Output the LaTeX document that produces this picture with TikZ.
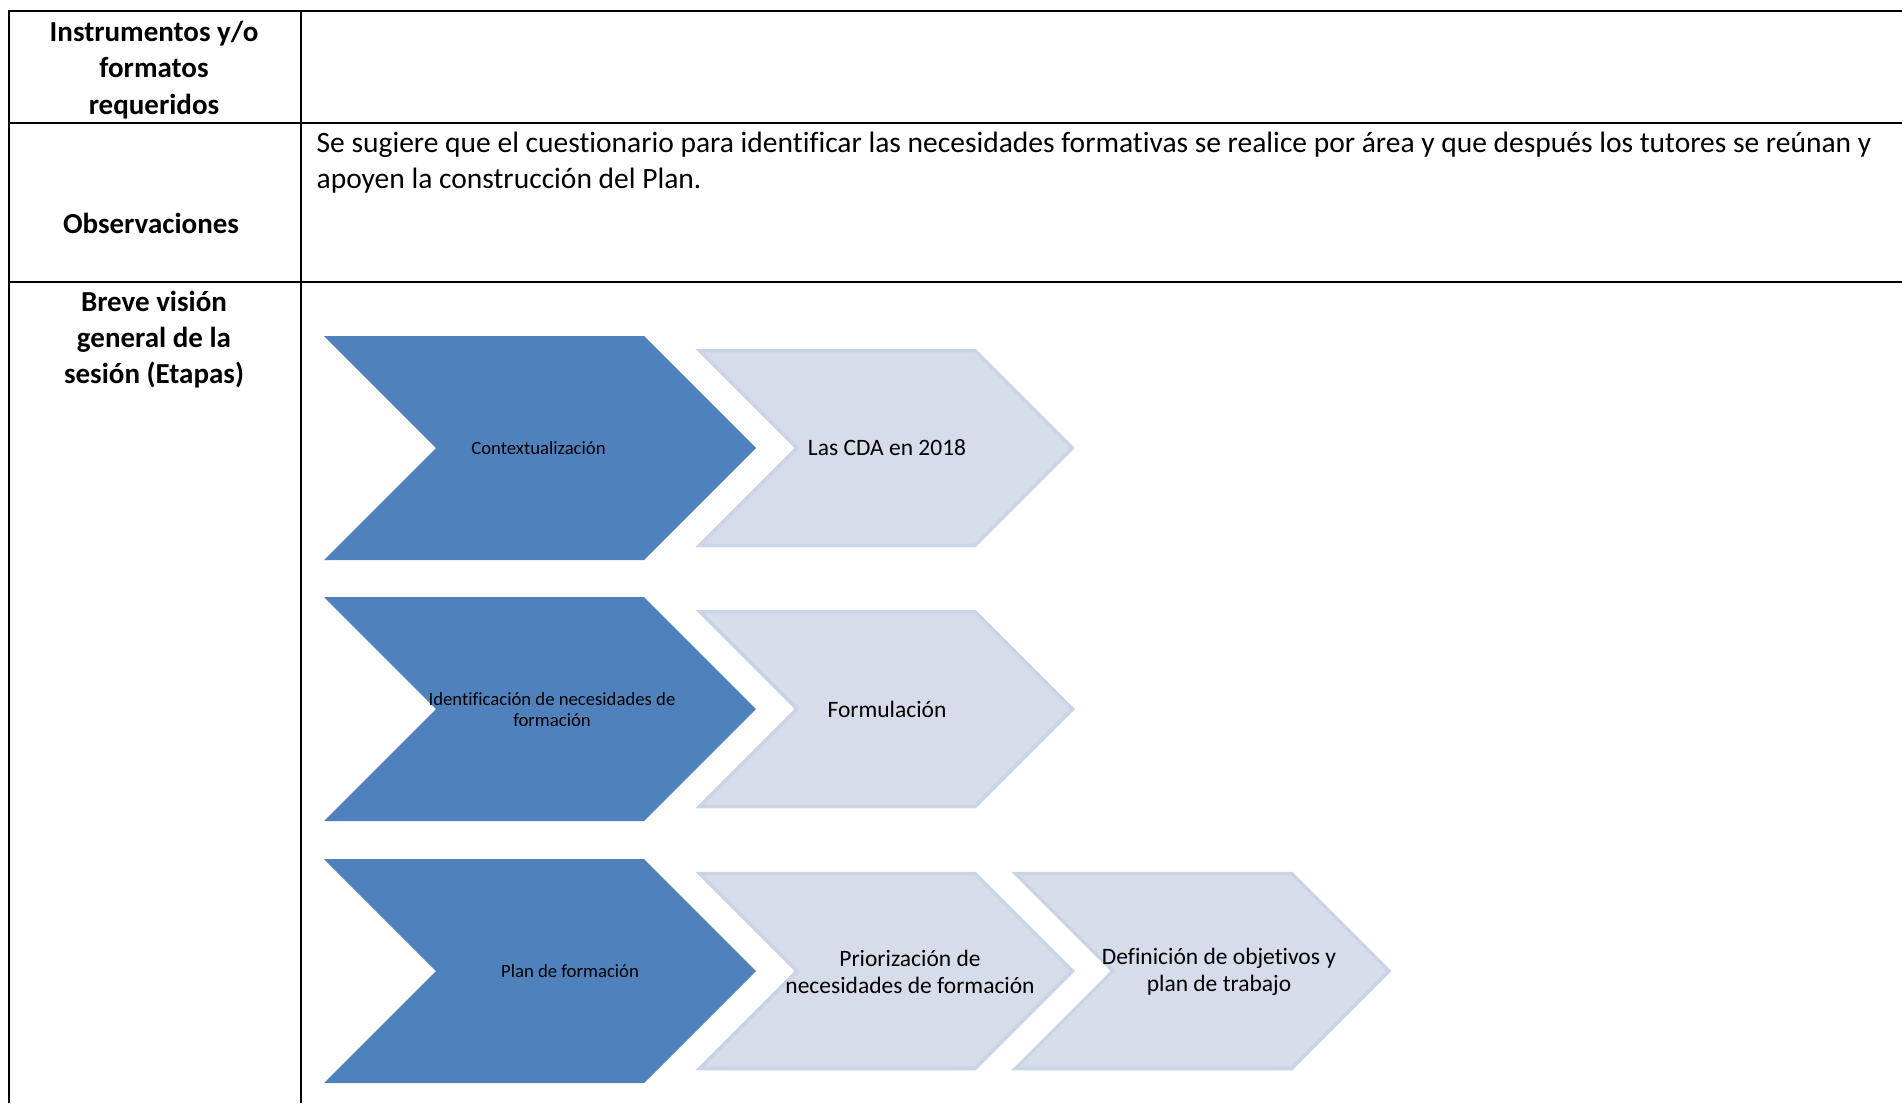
\documentclass[tikz,border=0pt]{standalone}
\usepackage{fontspec}
\setmainfont{Carlito}[Ligatures={NoCommon}]
\definecolor{darkblue}{HTML}{4F81BD}
\definecolor{lightfill}{HTML}{D6DCE9}
\definecolor{lightedge}{HTML}{CAD4E7}
\begin{document}
\begin{tikzpicture}[x=1pt,y=-1pt,
  rule/.style={line width=2pt,black},
  head/.style={font=\fontsize{29}{36.4}\selectfont\bfseries,align=center,inner sep=0pt},
  body/.style={font=\fontsize{29.5}{36.4}\selectfont,align=left,inner sep=0pt,anchor=west},
  darkchev/.style={fill=darkblue,draw=none},
  lightchev/.style={fill=lightfill,draw=lightedge,line width=3.5pt,line join=miter},
  darklbl/.style={font=\fontsize{18.7}{21}\selectfont,align=center,inner sep=0pt},
  lightlbl/.style={font=\fontsize{23.5}{26.5}\selectfont,align=center,inner sep=0pt}]
\useasboundingbox (0,0) rectangle (1902,1103);
% table rules
\draw[rule] (8.5,11) -- (1902,11);
\draw[rule] (8.5,122.5) -- (1902,122.5);
\draw[rule] (8.5,281.5) -- (1902,281.5);
\draw[rule] (8.5,10) -- (8.5,1103);
\draw[rule] (301,10) -- (301,1103);
% header texts
\node[head] (h1) at (154,70) {Instrumentos y/o\\formatos\\requeridos};
\node[head] (h2) at (151,223) {Observaciones};
\node[head] (h3) at (154,339.5) {Breve visión\\general de la\\sesión (Etapas)};
\node[body] (obs) at (316.5,162.5) {Se sugiere que el cuestionario para identificar las necesidades formativas se realice por área y que después los tutores se reúnan y\\apoyen la construcción del Plan.};
% dark chevrons
\foreach \m in {448,709,971}{
  \fill[darkchev] (324,\m-112) -- (644,\m-112) -- (756,\m) -- (644,\m+112) -- (324,\m+112) -- (436,\m) -- cycle;
}
% light chevrons
\foreach \m in {448,709,971}{
  \draw[lightchev] (699.5,\m-97.5) -- (975,\m-97.5) -- (1072.5,\m) -- (975,\m+97.5) -- (699.5,\m+97.5) -- (797,\m) -- cycle;
}
\draw[lightchev] (1015.5,873.5) -- (1291.5,873.5) -- (1389,971) -- (1291.5,1068.5) -- (1015.5,1068.5) -- (1113,971) -- cycle;
% labels
\node[darklbl] (d1) at (538.5,448) {Contextualización};
\node[darklbl] (d2) at (552,710) {Identificación de necesidades de\\formación};
\node[darklbl] (d3) at (570,971) {Plan de formación};
\node[lightlbl] (l1) at (887,448) {Las CDA en 2018};
\node[lightlbl] (l2) at (887,709) {Formulación};
\node[lightlbl] (l3) at (910,972) {Priorización de\\necesidades de formación};
\node[lightlbl] (l4) at (1219,972) {Definición de objetivos y\\plan de trabajo};
\end{tikzpicture}
\end{document}
